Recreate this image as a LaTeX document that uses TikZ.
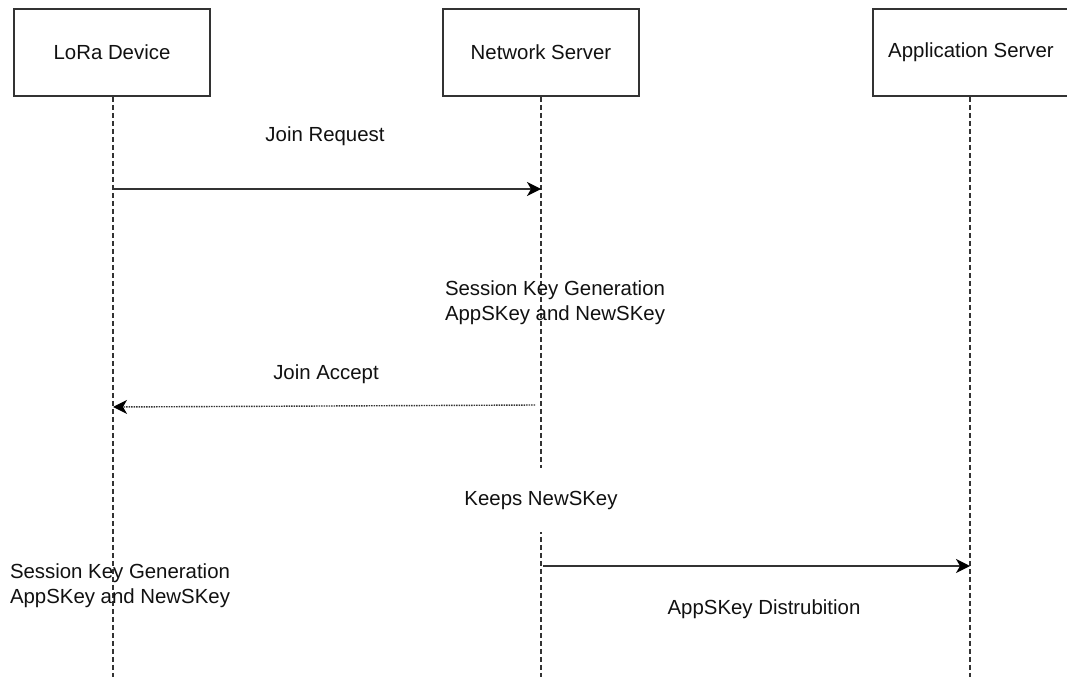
\documentclass[tikz,border=0pt]{standalone}
\usepackage{fontspec}
\setmainfont{Liberation Sans}
\usetikzlibrary{arrows.meta}
\definecolor{linegray}{HTML}{333333}
\definecolor{txt}{HTML}{111111}
\tikzset{
  actor/.style={draw=linegray, line width=1.6pt, minimum width=196pt, minimum height=87pt, inner sep=0pt, text=txt, font=\fontsize{20.4}{24}\selectfont},
  lifeline/.style={draw=linegray, line width=1.2pt, dash pattern=on 5pt off 3pt},
  msg/.style={draw=linegray, line width=1.6pt, -{Stealth[length=14pt,width=14pt,inset=4pt,color=black]}},
  reply/.style={draw=linegray, line width=1.4pt, dash pattern=on 1.5pt off 1pt, -{Stealth[length=14pt,width=14pt,inset=4pt,color=black]}},
  lbl/.style={text=txt, font=\fontsize{20.4}{25}\selectfont, align=center, inner sep=0pt},
}
\begin{document}
\begin{tikzpicture}[x=1pt,y=-1pt]
\useasboundingbox (0,0) rectangle (1067,677);
\fill[white] (0,0) rectangle (1067,677);
% actors
\node[actor] (lora) at (112,52.5) {LoRa Device};
\node[actor] (ns) at (541,52.5) {Network Server};
\node[actor] (as) at (971,52.5) {Application Server};
% lifeline ends
\coordinate (loraEnd) at (113,677);
\coordinate (nsEnd) at (541,677);
\coordinate (asEnd) at (970,677);
\draw[lifeline] (lora.south -| loraEnd) -- (loraEnd);
\draw[lifeline] (ns.south -| nsEnd) -- (nsEnd);
\draw[lifeline] (as.south -| asEnd) -- (asEnd);
% message anchors
\coordinate (jrS) at (113,189);
\coordinate (jrE) at (541,189);
\coordinate (jaS) at (535,405);
\coordinate (jaE) at (113,407);
\coordinate (adS) at (543,566);
\coordinate (adE) at (970,566);
% messages
\draw[msg] (jrS) -- (jrE);
\draw[reply] (jaS) -- (jaE);
\draw[msg] (adS) -- (adE);
% labels
\node[lbl] (ljr) at (325,136) {Join Request};
\node[lbl] (skg1) at (555,302.5) {Session Key Generation\\AppSKey and NewSKey};
\node[lbl] (lja) at (326,374) {Join Accept};
\node[lbl, fill=white, minimum height=64pt, inner xsep=2pt] (keep) at (541,500) {Keeps NewSKey};
\node[lbl] (skg2) at (120,585.5) {Session Key Generation\\AppSKey and NewSKey};
\node[lbl] (lad) at (764,609) {AppSKey Distrubition};
\end{tikzpicture}
\end{document}
